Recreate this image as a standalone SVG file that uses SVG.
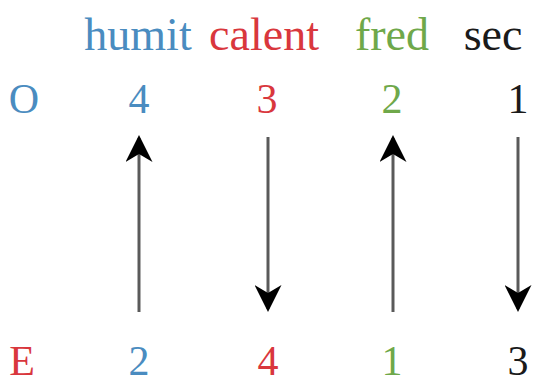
<svg xmlns="http://www.w3.org/2000/svg" width="548" height="385" viewBox="0 0 548 385">
<style>
text{font-family:"Liberation Serif","DejaVu Serif",serif;font-size:42px;text-anchor:middle}
.h{font-size:46px}
.b{fill:#4a8cc0}.r{fill:#d9373d}.g{fill:#6fa84a}.k{fill:#1a1a1a}
.c{stroke:#5a5a5a;stroke-width:3;fill:none}
</style>
<defs>
<marker id="ah" viewBox="0 0 27 27" refX="24" refY="13.5" markerWidth="27" markerHeight="27" markerUnits="userSpaceOnUse" orient="auto">
<path d="M27,13.5 L0,0 L8,13.5 L0,27 Z" fill="#000"/>
</marker>
</defs>
<rect width="548" height="385" fill="#fff"/>
<g id="header">
<text class="b h" x="138" y="50">humit</text>
<text class="r h" x="264" y="50">calent</text>
<text class="g h" x="392" y="50">fred</text>
<text class="k h" x="493" y="50">sec</text>
</g>
<g id="row-O">
<text class="b" x="24" y="113">O</text>
<text class="b" x="139" y="113">4</text>
<text class="r" x="267" y="113">3</text>
<text class="g" x="392" y="113">2</text>
<text class="k" x="518" y="113">1</text>
</g>
<g id="row-E">
<text class="r" x="22" y="375">E</text>
<text class="b" x="139" y="375">2</text>
<text class="r" x="268" y="375">4</text>
<text class="g" x="392" y="375">1</text>
<text class="k" x="518" y="375">3</text>
</g>
<g id="connectors">
<line class="c" x1="139" y1="312" x2="139" y2="138" marker-end="url(#ah)"/>
<line class="c" x1="268" y1="137" x2="268" y2="309" marker-end="url(#ah)"/>
<line class="c" x1="393" y1="312" x2="393" y2="138" marker-end="url(#ah)"/>
<line class="c" x1="518" y1="137" x2="518" y2="309" marker-end="url(#ah)"/>
</g>
</svg>
